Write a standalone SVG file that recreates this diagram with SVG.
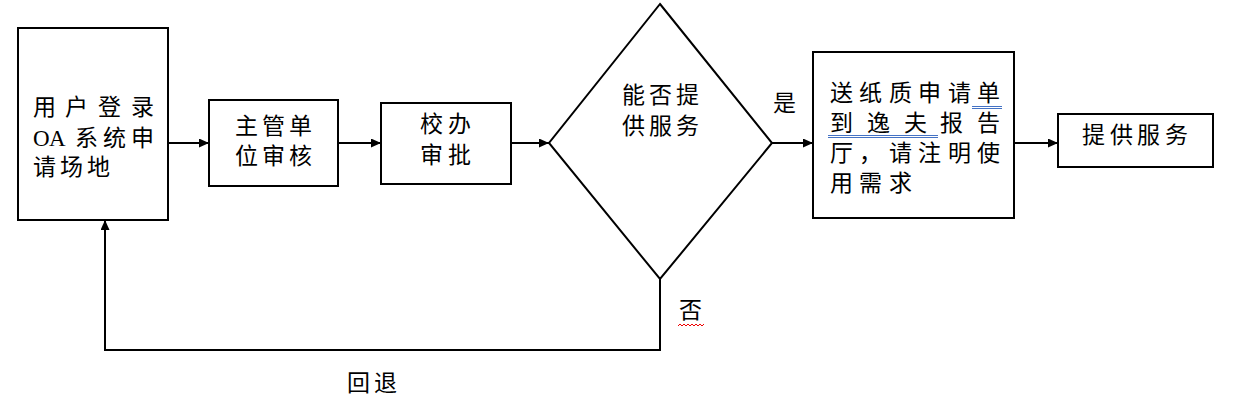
<svg xmlns="http://www.w3.org/2000/svg" width="1234" height="406" viewBox="0 0 1234 406">
<style>
.box{fill:#fff;stroke:#000;stroke-width:2}
.t{font-family:"Liberation Serif","Noto Sans CJK SC",serif;font-size:23px;fill:#000}
.c{fill:none;stroke:#000;stroke-width:2}
.ul{stroke:#4472c4;stroke-width:1}
</style>
<defs>
<marker id="ah" markerUnits="userSpaceOnUse" markerWidth="11" markerHeight="9" refX="10" refY="4.5" orient="auto">
<path d="M0,0 L10,4.5 L0,9 z" fill="#000"/>
</marker>
</defs>
<rect width="1234" height="406" fill="#fff"/>
<g id="connectors">
<line class="c" x1="168" y1="143" x2="209" y2="143" marker-end="url(#ah)"/>
<line class="c" x1="338" y1="143" x2="381" y2="143" marker-end="url(#ah)"/>
<line class="c" x1="511" y1="143" x2="549" y2="143" marker-end="url(#ah)"/>
<line class="c" x1="772" y1="143" x2="813" y2="143" marker-end="url(#ah)"/>
<line class="c" x1="1014" y1="143" x2="1058" y2="143" marker-end="url(#ah)"/>
<polyline class="c" points="660,279 660,350 105,350 105,220" marker-end="url(#ah)"/>
<text class="t" x="773" y="111">是</text>
<text class="t" x="679" y="318">否</text>
<path d="M678,326 l2,-2 l2,2 l2,-2 l2,2 l2,-2 l2,2 l2,-2 l2,2 l2,-2 l2,2 l2,-2 l2,2 l2,-2" fill="none" stroke="#e00" stroke-width="1"/>
<text class="t" x="347 374" y="391">回退</text>
</g>
<g id="n1">
<rect class="box" x="18" y="28" width="150" height="192"/>
<text class="t" x="33 65 98 131" y="115">用户登录</text>
<text class="t" x="33 49 75 103 131" y="146">OA系统申</text>
<text class="t" x="33 60 87" y="175">请场地</text>
</g>
<g id="n2">
<rect class="box" x="209" y="100" width="129" height="86"/>
<text class="t" x="235 262 289" y="134">主管单</text>
<text class="t" x="235 262 289" y="164">位审核</text>
</g>
<g id="n3">
<rect class="box" x="381" y="103" width="130" height="81"/>
<text class="t" x="420 448" y="132">校办</text>
<text class="t" x="420 448" y="163">审批</text>
</g>
<g id="n4">
<polygon points="660,4 772,143 660,279 549,143" fill="#fff" stroke="#000" stroke-width="2"/>
<text class="t" x="622 649 676" y="103">能否提</text>
<text class="t" x="622 649 676" y="134">供服务</text>
</g>
<g id="n5">
<rect class="box" x="813" y="52" width="201" height="166"/>
<text class="t" x="830 859 889 918 948 977" y="101">送纸质申请单</text>
<text class="t" x="830 867 904 940 977" y="131">到逸夫报告</text>
<text class="t" x="830 859 889 918 948 977" y="161">厅，请注明使</text>
<text class="t" x="830 859 889" y="191">用需求</text>
<line class="ul" x1="972" y1="106.5" x2="1002" y2="106.5"/>
<line class="ul" x1="972" y1="108.5" x2="1002" y2="108.5"/>
<line class="ul" x1="828" y1="135.5" x2="938" y2="135.5"/>
<line class="ul" x1="828" y1="137.5" x2="938" y2="137.5"/>
</g>
<g id="n6">
<rect class="box" x="1058" y="114" width="155" height="53"/>
<text class="t" x="1082 1110 1137 1165" y="143">提供服务</text>
</g>
</svg>
